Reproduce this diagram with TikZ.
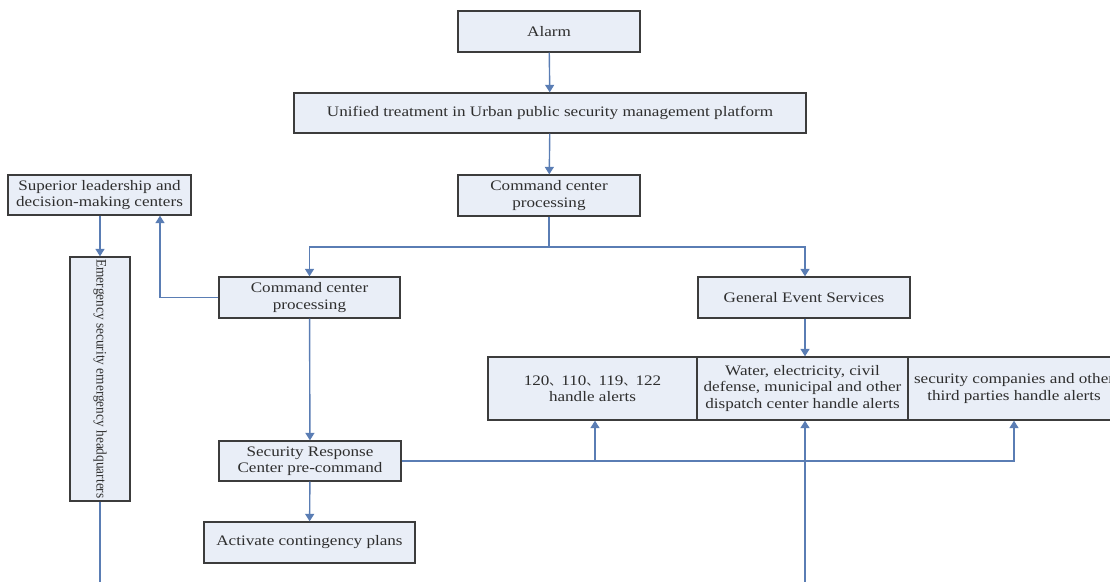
\documentclass[tikz,border=0pt]{standalone}
\usepackage{fontspec}
\setmainfont{Liberation Serif}[FakeStretch=1.18]
\newfontfamily\narrowserif{Liberation Serif}[FakeStretch=0.92]
\newfontfamily\cjk{Noto Sans CJK SC}
\usetikzlibrary{arrows.meta}
\definecolor{boxfill}{HTML}{E9EEF7}
\definecolor{boxline}{HTML}{3C3C3C}
\definecolor{flow}{HTML}{5A7DB4}
\definecolor{ink}{HTML}{2E2E2E}
\newcommand{\dunhao}{{\cjk\fontsize{12}{14}\selectfont 、}}
\tikzset{
  stepbox/.style={draw=boxline, fill=boxfill, line width=1.3pt, align=center,
    inner sep=0pt, text=ink, font=\fontsize{14.5}{16.5}\selectfont},
  flowline/.style={draw=flow, line width=1.4pt},
  flowarrow/.style={flowline, -{Triangle[width=9pt,length=7.5pt]}},
}
\begin{document}
\begin{tikzpicture}[x=1pt, y=-1pt]
\useasboundingbox (0,0) rectangle (1110,581);

% boxes
\node[stepbox, minimum width=182pt, minimum height=41pt] (alarm) at (549,31.5) {Alarm};
\node[stepbox, minimum width=512pt, minimum height=40pt] (unified) at (550,113)
  {Unified treatment in Urban public security management platform};
\node[stepbox, minimum width=182pt, minimum height=41pt] (cmdtop) at (549,195.5)
  {Command center\\processing};
\node[stepbox, minimum width=183pt, minimum height=40pt] (superior) at (99.5,195)
  {Superior leadership and\\decision-making centers};
\node[stepbox, minimum width=181pt, minimum height=41pt] (cmdleft) at (309.5,297.5)
  {Command center\\processing};
\node[stepbox, minimum width=212pt, minimum height=41pt] (general) at (804,297.5)
  {General Event Services};
% vertical box: rotated clockwise, so its west anchor is on top, east at the bottom
\node[stepbox, minimum width=244pt, minimum height=60pt, rotate=-90] (emerg) at (100,379)
  {\narrowserif Emergency security emergency headquarters};
\node[stepbox, minimum width=209pt, minimum height=63pt] (alertA) at (592.5,388.5)
  {120\dunhao 110\dunhao 119\dunhao 122\\handle alerts};
\node[stepbox, minimum width=211pt, minimum height=63pt] (alertB) at (802.5,388.5)
  {Water, electricity, civil\\defense, municipal and other\\dispatch center handle alerts};
\node[stepbox, minimum width=212pt, minimum height=63pt] (alertC) at (1014,388.5)
  {security companies and other\\third parties handle alerts};
\node[stepbox, minimum width=182pt, minimum height=40pt] (secresp) at (310,461)
  {Security Response\\Center pre-command};
\node[stepbox, minimum width=211pt, minimum height=41pt] (activate) at (309.5,542.5)
  {Activate contingency plans};

% free ends and junctions
\coordinate (split) at (549,247);
\coordinate (hqfoot) at (100,590);
\coordinate (dispatchfoot) at (805,590);

% connectors
\draw[flowarrow] (alarm) -- (unified);
\draw[flowarrow] (unified) -- (cmdtop);
\draw[flowline] (cmdtop.south) -- (split);
\draw[flowarrow] (split) -| (cmdleft.north);
\draw[flowarrow] (split) -| (general.north -| dispatchfoot);
\draw[flowarrow] (cmdleft.west) -| (160,0 |- superior.south);
\draw[flowarrow] (superior.south -| emerg.west) -- (emerg.west);
\draw[flowline] (emerg.east) -- (hqfoot);
\draw[flowarrow] (cmdleft) -- (secresp);
\draw[flowarrow] (secresp) -- (activate);
\draw[flowarrow] (secresp.east) -| (alertC.south);
\draw[flowarrow] (secresp.east -| 595,0) -- (595,0 |- alertA.south);
\draw[flowarrow] (general.south -| dispatchfoot) -- (alertB.north -| dispatchfoot);
\draw[flowarrow] (dispatchfoot) -- (alertB.south -| dispatchfoot);
\end{tikzpicture}
\end{document}
